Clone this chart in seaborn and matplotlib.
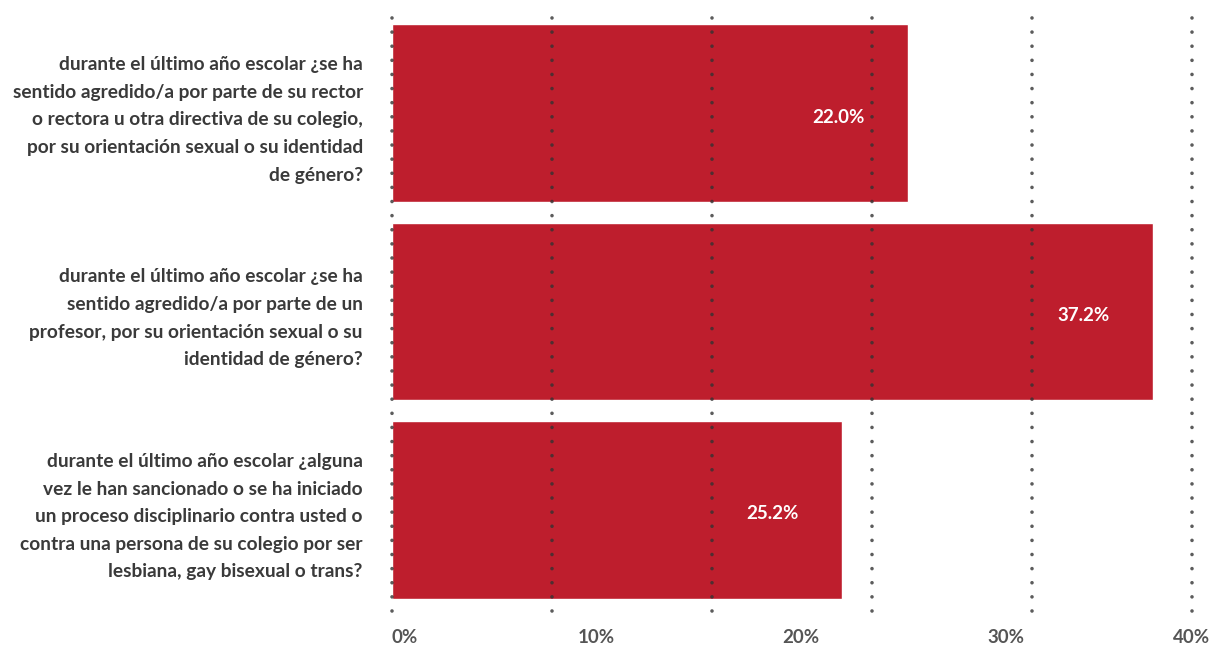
import pandas as pd
import numpy as np
import matplotlib
matplotlib.use("Agg")
import matplotlib.pyplot as plt
import seaborn as sns

# Preguntas (eje y)
questions = [
    "durante el último año escolar ¿se ha\nsentido agredido/a por parte de su rector\n"
    "o rectora u otra directiva de su colegio,\npor su orientación sexual o su identidad\nde género?",
    "durante el último año escolar ¿se ha\nsentido agredido/a por parte de un\n"
    "profesor, por su orientación sexual o su\nidentidad de género?",
    "durante el último año escolar ¿alguna\nvez le han sancionado o se ha iniciado\n"
    "un proceso disciplinario contra usted o\ncontra una persona de su colegio por ser\n"
    "lesbiana, gay bisexual o trans?",
]
# largo de barra tal como aparece en la imagen (%)
bar_values = [25.2, 37.2, 22.0]
# texto impreso dentro de cada barra
bar_labels = ["22.0%", "37.2%", "25.2%"]
tick_values = [0, 10, 20, 30, 40]
tick_labels = ["0%", "10%", "20%", "30%", "40%"]

BAR_COLOR = "#BE1E2D"
TEXT_COLOR = "#3a3a3a"

df = pd.DataFrame({"pregunta": questions, "valor": bar_values})

sns.set_theme(style="white")
plt.rcParams["font.family"] = ["Lato", "DejaVu Sans"]

fig = plt.figure(figsize=(12.22, 6.48), dpi=100)
ax = fig.add_axes([392 / 1222, 37 / 648, 820 / 1222, 599 / 648])

sns.barplot(data=df, x="valor", y="pregunta", color=BAR_COLOR, saturation=1,
            width=0.897, errorbar=None, orient="h", ax=ax)

ax.set_xlim(0, 40.08)
ax.set_ylim(2.51, -0.51)

# lineas punteadas verticales
grid_step = 7.82
for gx in np.arange(6) * grid_step:
    ax.axvline(gx, color="#333333", lw=2.6, linestyle=(0, (0.01, 3.9)),
               dash_capstyle="round", alpha=0.8, zorder=3, clip_on=False)

for i, (v, lab) in enumerate(zip(bar_values, bar_labels)):
    ax.text(v - 3.4, i + 0.02, lab, color="white", fontsize=13.5, fontweight="bold",
            ha="center", va="center", zorder=4)

ax.set_xticks(tick_values)
ax.set_xticklabels(tick_labels, fontsize=13.5, fontweight="bold", color="#555555")
xl = ax.get_xticklabels()
xl[0].set_ha("left")
xl[-1].set_ha("right")
ax.tick_params(axis="x", length=0, pad=13)
ax.tick_params(axis="y", length=0, pad=21)
for t in ax.get_yticklabels():
    t.set_fontsize(13.8)
    t.set_fontweight("bold")
    t.set_color(TEXT_COLOR)
    t.set_linespacing(1.76)

ax.set_xlabel("")
ax.set_ylabel("")
sns.despine(ax=ax, left=True, bottom=True)

fig.savefig("out.png", dpi=100)
